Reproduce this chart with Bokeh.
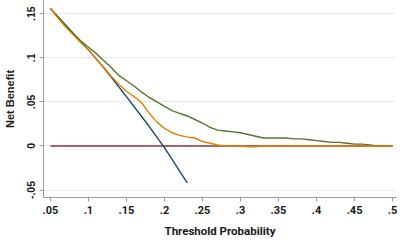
from bokeh.plotting import figure
from bokeh.models import Range1d, FixedTicker
from bokeh.embed import file_html
from bokeh.resources import INLINE

# Threshold probabilities
thr = [0.05, 0.06, 0.07, 0.08, 0.09, 0.10, 0.11, 0.12, 0.13, 0.14, 0.15, 0.16,
       0.17, 0.18, 0.19, 0.20, 0.21, 0.22, 0.23, 0.24, 0.25, 0.26, 0.27, 0.28,
       0.29, 0.30, 0.31, 0.32, 0.33, 0.34, 0.35, 0.36, 0.37, 0.38, 0.39, 0.40,
       0.41, 0.42, 0.43, 0.44, 0.45, 0.46, 0.47, 0.48, 0.49, 0.50]

# Model 1 (green)
nb_model1 = [0.156, 0.146, 0.136, 0.127, 0.119, 0.112, 0.105, 0.097, 0.089, 0.080,
             0.074, 0.068, 0.061, 0.055, 0.050, 0.045, 0.040, 0.037, 0.034, 0.030,
             0.026, 0.021, 0.018, 0.017, 0.016, 0.015, 0.013, 0.011, 0.009, 0.009,
             0.009, 0.009, 0.008, 0.008, 0.007, 0.006, 0.005, 0.004, 0.004, 0.003,
             0.002, 0.002, 0.001, 0.000, 0.000, 0.000]

# Model 2 (orange)
nb_model2 = [0.156, 0.145, 0.135, 0.126, 0.117, 0.109, 0.099, 0.089, 0.079, 0.070,
             0.062, 0.056, 0.049, 0.037, 0.027, 0.020, 0.015, 0.012, 0.010, 0.009,
             0.005, 0.003, 0.001, 0.000, 0.000, 0.000, -0.001, -0.001, 0.000, 0.000,
             0.000, 0.000, 0.000, 0.000, 0.000, 0.000, 0.000, 0.000, 0.000, 0.000,
             0.000, 0.000, 0.000, 0.000, 0.000, 0.000]

# Treat all (navy)
thr_all = [0.05, 0.08, 0.10, 0.12, 0.15, 0.18, 0.20, 0.23]
nb_all = [0.156, 0.128, 0.109, 0.089, 0.056, 0.022, -0.002, -0.042]

# Treat none (maroon)
thr_none = [0.05, 0.50]
nb_none = [0.0, 0.0]

x_ticks = [0.05, 0.1, 0.15, 0.2, 0.25, 0.3, 0.35, 0.4, 0.45, 0.5]
x_labels = [".05", ".1", ".15", ".2", ".25", ".3", ".35", ".4", ".45", ".5"]
y_ticks = [-0.05, 0.0, 0.05, 0.1, 0.15]
y_labels = ["-.05", "0", ".05", ".1", ".15"]

p = figure(width=400, height=240, output_backend="svg", toolbar_location=None,
           x_range=Range1d(0.0409, 0.5052), y_range=Range1d(-0.0585, 0.165),
           min_border_left=40, min_border_right=4, min_border_top=0,
           min_border_bottom=42)
p.outline_line_color = None
p.background_fill_color = "white"
p.border_fill_color = "white"

p.xgrid.grid_line_color = None
p.ygrid.grid_line_color = "#eaeaea"
p.ygrid.grid_line_width = 1

for ax in (p.xaxis[0], p.yaxis[0]):
    ax.axis_line_color = "#9a9a9a"
    ax.major_tick_line_color = "#9a9a9a"
    ax.major_tick_out = 4
    ax.major_tick_in = 0
    ax.minor_tick_line_color = None
    ax.major_label_text_font = "Roboto"
    ax.major_label_text_font_size = "11px"
    ax.major_label_text_font_style = "bold"
    ax.major_label_text_color = "#1a1a1a"
    ax.axis_label_text_font = "Roboto"
    ax.axis_label_text_font_size = "11.5px"
    ax.axis_label_text_font_style = "bold"
    ax.axis_label_text_color = "#1a1a1a"

p.xaxis.ticker = FixedTicker(ticks=x_ticks)
p.xaxis.major_label_overrides = dict(zip(x_ticks, x_labels))
p.xaxis.axis_label = "Threshold Probability"
p.xaxis.major_label_standoff = 4
p.xaxis.axis_label_standoff = 7

p.yaxis.ticker = FixedTicker(ticks=y_ticks)
p.yaxis.major_label_overrides = dict(zip(y_ticks, y_labels))
p.yaxis.major_label_orientation = "vertical"
p.yaxis.axis_label = "Net Benefit"
p.yaxis.major_label_standoff = 4
p.yaxis.axis_label_standoff = 9
p.yaxis.axis_label_text_font = "Liberation Sans"
p.yaxis.axis_label_text_font_size = "11px"
p.yaxis.major_label_text_font = "Liberation Sans"
p.yaxis.major_label_text_font_size = "10.5px"

p.line(thr_none, nb_none, line_color="#90353b", line_width=1.4)
p.line(thr_all, nb_all, line_color="#1a476f", line_width=1.4)
p.line(thr, nb_model1, line_color="#55752f", line_width=1.4)
p.line(thr, nb_model2, line_color="#e37e00", line_width=1.4)

open("out.html", "w").write(file_html(p, INLINE))
